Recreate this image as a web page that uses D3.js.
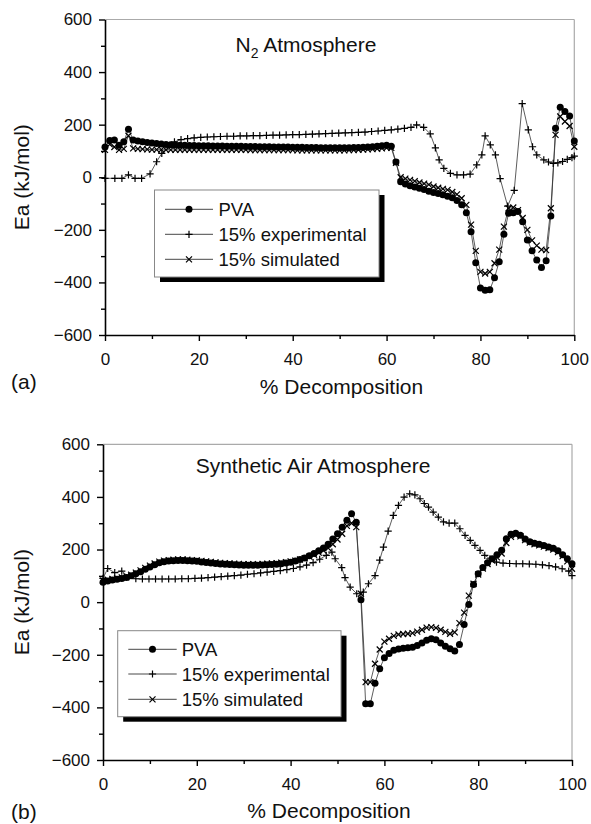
<!DOCTYPE html>
<html><head><meta charset="utf-8">
<script src="https://cdn.jsdelivr.net/npm/d3@7"></script>
<style>
body{margin:0;background:#fff}
svg{display:block}
text{font-family:"Liberation Sans",Arial,Helvetica,sans-serif;fill:#111}
</style>
</head><body>
<svg id="c" width="591" height="824"></svg>
<script>
// ---------- DATA ----------
const decomp = [0,1,2,3,4,5,6,7,8,9,10,11,12,13,14,15,16,17,18,19,20,21,22,23,24,25,26,27,28,29,30,31,32,33,34,35,36,37,38,39,40,41,42,43,44,45,46,47,48,49,50,51,52,53,54,55,56,57,58,59,60,61,62,63,64,65,66,67,68,69,70,71,72,73,74,75,76,77,78,79,80,81,82,83,84,85,86,87,88,89,90,91,92,93,94,95,96,97,98,99,100];

// Panel (a) N2 atmosphere
const pvaA = [115,140,142,122,135,183,142,138,135,132,130,128,126,125,124,123,122,122,121,121,120,120,120,119,119,119,118,118,118,118,117,117,117,116,116,116,115,115,115,115,114,114,114,113,113,113,112,112,112,112,112,112,112,113,113,114,115,116,118,120,122,118,58,-17,-26,-32,-37,-42,-47,-53,-58,-62,-67,-72,-78,-88,-105,-135,-207,-325,-421,-430,-428,-382,-321,-217,-137,-135,-130,-169,-239,-280,-315,-343,-318,-147,186,266,250,233,138];
const simA = [104,125,115,104,108,158,110,108,107,106,105,105,105,104,104,104,104,104,104,104,104,104,104,104,104,104,104,104,104,104,104,103,103,103,103,103,103,103,103,103,103,102,102,102,102,102,102,102,102,102,102,102,103,103,104,105,106,107,108,110,112,112,55,0,-5,-10,-15,-20,-24,-28,-35,-40,-44,-48,-56,-65,-80,-105,-180,-280,-360,-366,-360,-327,-275,-188,-118,-115,-125,-155,-200,-240,-260,-275,-277,-118,161,231,212,195,116];
const expAx = [0,2.1,3.6,5,6.4,7.8,9.6,11,12.1,13.4,14.8,16.2,17.6,19,20.4,21.8,23.2,24.6,26,27.4,28.8,30.2,31.6,33,34.4,35.8,37.2,38.6,40,41.4,42.8,44.2,45.6,47,48.4,49.8,51.2,52.6,54,55.4,56.8,58.2,59.6,61,62.4,63.8,65.2,66.4,67.9,69.3,70.4,71.2,72.2,73.6,75,76.4,77.8,79.2,80.3,81,82.1,83.2,84.2,85.8,87.2,88.9,90.2,91.1,92,93.5,94.5,95.5,96.5,97.5,98.5,99.5,100];
const expAy = [-4,-4,-4,9,-4,-4,13,59,91,118,135,143,147,150,152,153,154,155,156,156,157,157,158,158,159,160,160,161,162,162,163,164,165,166,167,168,169,170,171,172,174,176,178,180,183,186,190,199,190,165,112,66,34,15,9,9,12,47,85,157,123,85,-5,-110,-50,280,180,116,85,66,58,53,55,60,68,75,80];

// Panel (b) synthetic air atmosphere
const pvaB = [76,80,84,87,90,94,100,108,116,125,134,142,150,154,156,157,158,158,157,156,155,153,151,149,147,145,144,143,142,141,140,140,140,140,141,142,143,144,146,149,152,156,162,168,176,185,195,206,220,240,260,285,311,336,304,9,-386,-386,-308,-253,-211,-195,-183,-178,-175,-173,-171,-165,-155,-145,-139,-143,-155,-168,-177,-186,-161,-85,-9,67,108,132,150,165,180,197,241,258,262,254,240,230,224,220,215,210,205,195,180,165,146];
const simB = [82,85,88,91,94,98,104,112,121,130,139,147,154,158,160,161,162,162,161,160,159,157,155,153,151,149,148,147,146,145,144,144,144,144,145,146,147,148,150,152,155,158,162,167,173,180,188,196,206,220,238,260,290,300,285,32,-304,-304,-234,-180,-150,-139,-128,-123,-121,-120,-118,-112,-105,-97,-95,-98,-105,-113,-120,-115,-80,-40,25,70,105,128,145,158,170,185,225,248,255,250,236,226,220,216,211,206,200,190,175,155,127];
const expBx = [0,1,2.5,4,5.5,7,8.4,9.8,11.2,12.6,14,15.4,16.8,18.2,19.6,21,22.4,23.8,25.2,26.6,28,29.4,30.8,32.2,33.6,35,36.4,37.8,39.2,40.6,42,43.4,44.8,46.2,47.6,48.8,49.5,50.9,51.6,52.7,54.1,55.5,56.6,58,59,59.8,60.8,61.9,63,64.2,65.4,66.5,67.6,68.5,69.4,70.4,71.5,72.6,73.8,75,76.1,77.2,78.3,79.3,80.4,81.4,82.5,83.9,85.3,86.7,88.1,89.5,90.9,92.3,93.7,95.1,96.5,97.9,99.3,100];
const expBy = [90,128,112,118,96,89,88,88,88,88,88,88,89,89,90,91,93,95,97,99,101,103,106,108,111,114,117,120,124,128,134,141,150,163,178,190,165,131,93,57,32,38,70,101,160,209,270,330,368,399,412,408,393,375,361,342,323,305,300,300,279,254,235,216,197,178,165,152,148,147,146,146,145,144,142,139,134,127,118,101];

const xTicks = [0,20,40,60,80,100];
const xMinorTicks = [10,30,50,70,90];
const yTicks = [-600,-400,-200,0,200,400,600];
const yMinorTicks = [-500,-300,-100,100,300,500];
const legendLabels = ["PVA","15% experimental","15% simulated"];
const xTitle = "% Decomposition";
const yTitle = "Ea (kJ/mol)";

// ---------- DRAWING ----------
const svg = d3.select("#c");

function marker(sel, type){
  if(type==="circle"){
    sel.append("circle").attr("r",3.5).attr("fill","#000");
  } else if(type==="plus"){
    sel.append("path").attr("d","M-3.6,0H3.6M0,-3.6V3.6").attr("stroke","#000").attr("stroke-width",1.2).attr("fill","none");
  } else {
    sel.append("path").attr("d","M-3,-3L3,3M-3,3L3,-3").attr("stroke","#000").attr("stroke-width",1.2).attr("fill","none");
  }
}

function panel(o){
  const x = d3.scaleLinear().domain([0,100]).range([o.x0,o.x1]);
  const y = d3.scaleLinear().domain([-600,600]).range([o.yb,o.yt]);
  const g = svg.append("g");

  // gray top & right frame
  g.append("line").attr("x1",o.x0).attr("x2",o.x1).attr("y1",o.yt).attr("y2",o.yt).attr("stroke","#aaa").attr("stroke-width",1.2);
  g.append("line").attr("x1",o.x1).attr("x2",o.x1).attr("y1",o.yt).attr("y2",o.yb).attr("stroke","#aaa").attr("stroke-width",1.2);

  // minor ticks
  const xm = g.append("g").attr("transform",`translate(0,${o.yb})`)
    .call(d3.axisBottom(x).tickValues(xMinorTicks).tickSize(4).tickSizeOuter(0).tickFormat(""));
  xm.select(".domain").remove();
  const ym = g.append("g").attr("transform",`translate(${o.x0},0)`)
    .call(d3.axisLeft(y).tickValues(yMinorTicks).tickSize(4).tickSizeOuter(0).tickFormat(""));
  ym.select(".domain").remove();

  // main axes
  const xa = g.append("g").attr("transform",`translate(0,${o.yb})`)
    .call(d3.axisBottom(x).tickValues(xTicks).tickSize(6).tickSizeOuter(0).tickPadding(12).tickFormat(d3.format("d")));
  const ya = g.append("g").attr("transform",`translate(${o.x0},0)`)
    .call(d3.axisLeft(y).tickValues(yTicks).tickSize(6).tickSizeOuter(0).tickPadding(7).tickFormat(d3.format("d")));
  [xa,ya,xm,ym].forEach(a=>{
    a.selectAll("line").attr("stroke","#000").attr("stroke-width",1.4);
    a.selectAll(".domain").attr("stroke","#000").attr("stroke-width",1.6);
    a.selectAll("text").attr("font-size",17).attr("font-family",'"Liberation Sans",Arial,sans-serif').attr("fill","#111");
  });

  // series
  const series = [
    {xs:decomp, ys:o.pva, m:"circle"},
    {xs:o.expX, ys:o.expY, m:"plus"},
    {xs:decomp, ys:o.sim, m:"cross"}
  ];
  const line = d3.line().x(d=>x(d[0])).y(d=>y(d[1]));
  series.forEach(s=>{
    const pts = s.xs.map((v,i)=>[v,s.ys[i]]);
    g.append("path").attr("d",line(pts)).attr("fill","none").attr("stroke","#333").attr("stroke-width",0.8);
  });
  series.forEach(s=>{
    const pts = s.xs.map((v,i)=>[v,s.ys[i]]);
    g.append("g").selectAll("g").data(pts).join("g")
      .attr("transform",d=>`translate(${x(d[0])},${y(d[1])})`)
      .each(function(){ marker(d3.select(this), s.m); });
  });

  // legend
  const L = o.legend;
  g.append("rect").attr("x",L.x+5.5).attr("y",L.y+5).attr("width",L.w).attr("height",L.h).attr("fill","#000");
  g.append("rect").attr("x",L.x).attr("y",L.y).attr("width",L.w).attr("height",L.h).attr("fill","#fff").attr("stroke","#888").attr("stroke-width",1);
  const types = ["circle","plus","cross"];
  legendLabels.forEach((lab,i)=>{
    const ry = L.rows[i];
    g.append("line").attr("x1",L.lx0).attr("x2",L.lx1).attr("y1",ry).attr("y2",ry).attr("stroke","#333").attr("stroke-width",0.9);
    const mg = g.append("g").attr("transform",`translate(${(L.lx0+L.lx1)/2},${ry})`);
    marker(mg, types[i]);
    g.append("text").attr("x",L.tx).attr("y",ry).attr("dy","0.36em").attr("font-size",18.5).text(lab);
  });

  // axis titles
  g.append("text").attr("x",o.xtx).attr("y",o.xty).attr("text-anchor","middle").attr("font-size",21).text(xTitle);
  g.append("text").attr("transform",`translate(${o.ytx},${(o.yt+o.yb)/2}) rotate(-90)`)
    .attr("text-anchor","middle").attr("dy","0.35em").attr("font-size",21).text(yTitle);
  // panel letter
  g.append("text").attr("x",11).attr("y",o.lety).attr("font-size",21).text(o.letter);
  return g;
}

const ga = panel({
  x0:105, x1:574.3, yt:19.5, yb:335,
  pva:pvaA, sim:simA, expX:expAx, expY:expAy,
  legend:{x:154.5,y:190,w:224.5,h:87,rows:[209.3,234.3,259.3],lx0:165,lx1:213,tx:218.5},
  xtx:341.5, xty:393.5, ytx:22, letter:"(a)", lety:389
});
const ta = ga.append("text").attr("x",235.5).attr("y",51.7).attr("font-size",21);
ta.append("tspan").text("N");
ta.append("tspan").attr("font-size",14).attr("dy",6).text("2");
ta.append("tspan").attr("dy",-6).text(" Atmosphere");

const gb = panel({
  x0:103, x1:572, yt:444.3, yb:760,
  pva:pvaB, sim:simB, expX:expBx, expY:expBy,
  legend:{x:117.7,y:630.7,w:223.3,h:86,rows:[649.3,674,699.3],lx0:128.3,lx1:176.7,tx:181.7},
  xtx:329, xty:818.3, ytx:22, letter:"(b)", lety:818.5
});
gb.append("text").attr("x",195.7).attr("y",473).attr("font-size",21).text("Synthetic Air Atmosphere");
</script>
</body></html>
